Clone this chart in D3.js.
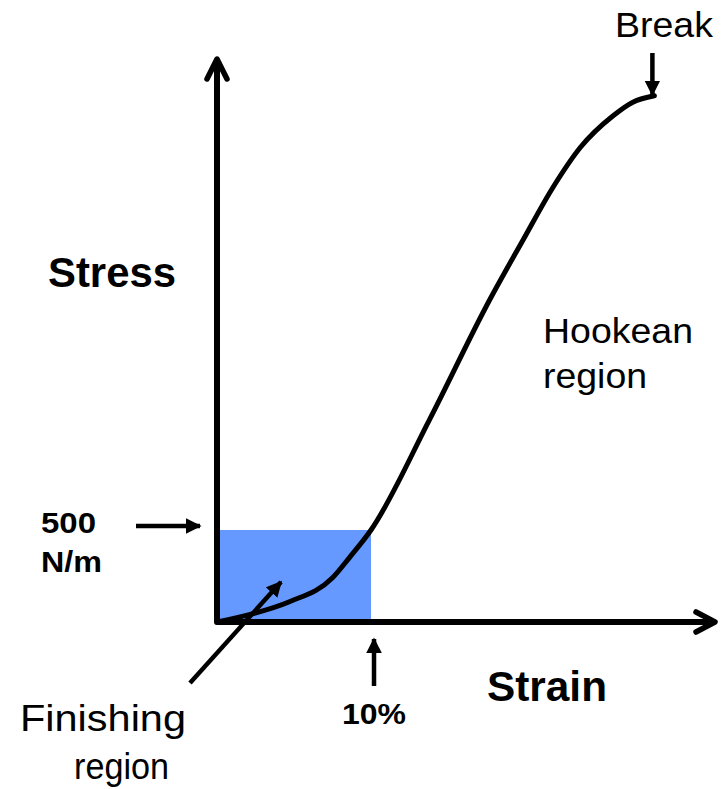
<!DOCTYPE html>
<html>
<head>
<meta charset="utf-8">
<script src="https://cdn.jsdelivr.net/npm/d3@7"></script>
<style>
  html, body { margin: 0; padding: 0; background: #fff; }
  svg { display: block; }
  text { font-family: "Liberation Sans", Arial, sans-serif; fill: #000; }
</style>
</head>
<body>
<svg id="chart" width="727" height="789"></svg>
<script>
// ---- data ----
const strain = [0, 2.1, 4.7, 7.5, 8.6, 10, 13.8, 17.7, 19.9, 21.8, 23.6, 25.7, 27.0, 28.4];
const stress = [0, 40, 110, 240, 350, 500, 1100, 1750, 2080, 2360, 2580, 2750, 2825, 2860];
const finishingStrain = 10;      // %
const finishingStress = 500;     // N/m
const axisLabels = ["Stress", "Strain"];
const stressTickLabel = ["500", "N/m"];
const strainTickLabel = "10%";
const regionLabels = { hookean: ["Hookean", "region"], finishing: ["Finishing", "region"], brk: "Break" };

// ---- scales ----
const svg = d3.select("#chart");
const x = d3.scaleLinear().domain([0, 32.4]).range([217, 716]);
const y = d3.scaleLinear().domain([0, 3065]).range([622, 58]);

// arrowhead markers
const defs = svg.append("defs");
defs.append("marker").attr("id", "tri")
  .attr("viewBox", "0 0 10 10").attr("refX", 9).attr("refY", 5)
  .attr("markerWidth", 3.5).attr("markerHeight", 3.5)
  .attr("markerUnits", "strokeWidth").attr("orient", "auto")
  .append("path").attr("d", "M0,0 L10,5 L0,10 Z").attr("fill", "#000");

// finishing region rectangle
svg.append("rect")
  .attr("x", x(0)).attr("y", y(finishingStress))
  .attr("width", x(finishingStrain) - x(0))
  .attr("height", y(0) - y(finishingStress))
  .attr("fill", "#6699ff");

// axes (with open chevron heads)
const ax = svg.append("g").attr("fill", "none").attr("stroke", "#000")
  .attr("stroke-width", 6).attr("stroke-linejoin", "round").attr("stroke-linecap", "round");
const x0 = x(0), y0 = y(0), xEnd = x.range()[1], yEnd = y.range()[1];
ax.append("path").attr("d", `M${x0},${yEnd + 2} L${x0},${y0} L${xEnd - 2},${y0}`).attr("stroke-linecap", "butt");
ax.append("path").attr("d", `M${x0 - 10},${yEnd + 21} L${x0},${yEnd + 1} L${x0 + 10},${yEnd + 21}`).attr("stroke-width", 5.5);
ax.append("path").attr("d", `M${xEnd - 20},${y0 - 10} L${xEnd - 1},${y0} L${xEnd - 20},${y0 + 10}`).attr("stroke-width", 5.5);

// stress-strain curve
const pts = strain.map((s, i) => [x(s), y(stress[i])]);
svg.append("path")
  .attr("d", d3.line().curve(d3.curveMonotoneX)(pts))
  .attr("fill", "none").attr("stroke", "#000").attr("stroke-width", 5)
  .attr("stroke-linecap", "round");

// annotation arrows
function arrow(x1, y1, x2, y2) {
  svg.append("line").attr("x1", x1).attr("y1", y1).attr("x2", x2).attr("y2", y2)
    .attr("stroke", "#000").attr("stroke-width", 4.5).attr("marker-end", "url(#tri)");
}
// 500 N/m
arrow(136, y(finishingStress) - 4, x0 - 17, y(finishingStress) - 4);
// 10%
arrow(x(finishingStrain) + 3, 686, x(finishingStrain) + 3, 639);
// Break
const last = pts[pts.length - 1];
arrow(last[0] - 2, 53, last[0] - 2, last[1] - 1);
// Finishing region
arrow(190, 683, 281, 582);

// texts
function txt(s, tx, ty, size, weight, len) {
  const t = svg.append("text").attr("x", tx).attr("y", ty)
    .attr("font-size", size).attr("font-weight", weight).text(s);
  if (len) t.attr("textLength", len).attr("lengthAdjust", "spacingAndGlyphs");
  return t;
}
txt(regionLabels.brk, 615, 37, 35, "normal", 98);
txt(axisLabels[0], 48, 287, 42, "bold", 128);
txt(axisLabels[1], 487, 701, 42, "bold", 120);
txt(regionLabels.hookean[0], 543, 343, 35, "normal", 150);
txt(regionLabels.hookean[1], 543, 388, 35, "normal", 104);
txt(stressTickLabel[0], 41, 533, 29, "bold", 55);
txt(stressTickLabel[1], 41, 572, 29, "bold", 61);
txt(strainTickLabel, 342, 724, 30, "bold", 64);
txt(regionLabels.finishing[0], 20, 731, 37, "normal", 166);
txt(regionLabels.finishing[1], 74, 779, 37, "normal", 95);
</script>
</body>
</html>
